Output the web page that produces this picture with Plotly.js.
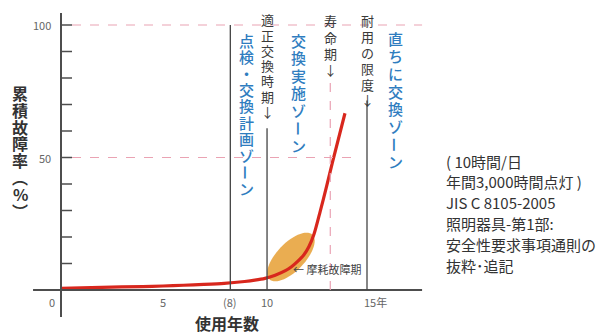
<!DOCTYPE html>
<html><head><meta charset="utf-8">
<script src="https://cdn.plot.ly/plotly-3.0.1.min.js"></script>
<style>html,body{margin:0;padding:0;background:#fff}#c{width:605px;height:335px}</style>
</head><body><div id="c"></div>
<script>
// ---- data ----
const years = [0, 2, 4, 5, 6, 7, 8, 9, 9.5, 10, 10.5, 11, 11.3, 11.6, 11.9, 12.15, 12.4, 12.7, 13.0, 13.3, 13.92];
const failureRate = [0.6, 1.0, 1.3, 1.5, 1.8, 2.1, 2.5, 3.2, 3.7, 4.4, 5.6, 7.3, 8.8, 10.8, 13.2, 16.3, 21, 29.5, 38.5, 48, 66.7];
const xTickPos = [0, 5, 8.3, 10.1, 15];
const xTickText = ['0', '5', '(8)', '10', '15年'];
const yMinorTicks = [10, 20, 30, 40, 50, 60, 70, 80, 90, 100];
const yLabelVals = [50, 100];
const refLevels = [100, 50];           // pink dashed horizontal levels
const refLevelEnds = [17.7, 14.55];    // where they stop on x
const milestoneX = [8.3, 10.1, 15];    // solid vertical lines
const milestoneTop = [100, 61, 71.5];
const lifeX = 13.2, lifeTop = 80;      // pink dashed vertical (寿命期)
const wearCenter = [11.27, 12.45];     // 摩耗故障期 ellipse centre
const noteLines = ['( 10時間/日', '年間3,000時間点灯 )', 'JIS C 8105-2005', '照明器具-第1部:', '安全性要求事項通則の', '抜粋･追記'];

// ---- geometry (pixel mapping) ----
const W = 605, H = 335;
const X0 = 61, PX = 20.4, Y0 = 290, PY = 2.65;
const xr = [-X0 / PX, (W - X0) / PX];
const yr = [(Y0 - H) / PY, Y0 / PY];
const FONT = '"Noto Sans CJK JP", "Noto Sans", sans-serif';
const px2p = p => p / W, py2p = p => 1 - p / H;

const shapes = [];
const axisCol = '#4d4d4d';
shapes.push({type:'line', xref:'x', yref:'y', x0:-1.37, x1:17.7, y0:0, y1:0, line:{color:axisCol, width:2}});
shapes.push({type:'line', xref:'x', yref:'y', x0:0, x1:0, y0:-10.2, y1:104.5, line:{color:axisCol, width:2}});
yMinorTicks.forEach(v => shapes.push({type:'line', xref:'x', yref:'y', x0:0, x1:11/PX, y0:v, y1:v, line:{color:axisCol, width:1.5}}));
refLevels.forEach((v,i) => shapes.push({type:'line', xref:'x', yref:'y', x0:11/PX, x1:refLevelEnds[i], y0:v, y1:v, line:{color:'#eaa3b3', width:1.2, dash:'dash'}}));
shapes.push({type:'line', xref:'x', yref:'y', x0:lifeX, x1:lifeX, y0:0, y1:lifeTop, line:{color:'#eaa3b3', width:1.2, dash:'dash'}});
milestoneX.forEach((v,i) => shapes.push({type:'line', xref:'x', yref:'y', x0:v, x1:v, y0:0, y1:milestoneTop[i], line:{color:'#444', width:1.3}}));
(function(){
  const a = 31, b = 14, th = 46 * Math.PI / 180;
  let d = '';
  for (let k = 0; k <= 60; k++) {
    const t = 2 * Math.PI * k / 60;
    const ox = a * Math.cos(th) * Math.cos(t) - b * Math.sin(th) * Math.sin(t);
    const oy = a * Math.sin(th) * Math.cos(t) + b * Math.cos(th) * Math.sin(t);
    const x = wearCenter[0] + ox / PX, y = wearCenter[1] + oy / PY;
    d += (k ? ' L ' : 'M ') + x.toFixed(4) + ',' + y.toFixed(4);
  }
  shapes.push({type:'path', xref:'x', yref:'y', path:d + ' Z', fillcolor:'rgba(232,164,62,0.9)', line:{width:0}, layer:'below'});
})();

const ann = [];
// vertical (tategaki) text, one character per annotation; the long-vowel mark is turned upright
function vtext(str, x, y, step, size, color, weight) {
  Array.from(str).forEach((ch, i) => ann.push({
    text: ch, xref:'paper', yref:'paper', x: px2p(x), y: py2p(y + i * step),
    xanchor:'center', yanchor:'middle', showarrow:false,
    textangle: ch === 'ー' ? 90 : 0,
    font:{family:FONT, size:size, color:color, weight:weight || 400}
  }));
}
const grey = '#3a3a3a', blue = '#2f7dbf';
vtext('適正交換時期↓', 267, 20, 15.2, 13, grey);
vtext('寿命期↓', 330, 21, 16.3, 13, grey);
vtext('耐用の限度↓', 367, 21, 15.8, 13, grey);
vtext('点検・交換計画ゾーン', 246, 40, 16.5, 15, blue, 500);
vtext('交換実施ゾーン', 298, 40, 17.6, 15, blue, 500);
vtext('直ちに交換ゾーン', 395, 38, 17.7, 15, blue, 500);
vtext('累積故障率︵%︶', 20, 93, 16.8, 16, '#333', 700);

ann.push({text:'使用年数', xref:'paper', yref:'paper', x:px2p(227), y:py2p(323), xanchor:'center', yanchor:'middle', showarrow:false, font:{family:FONT, size:16, color:'#333', weight:700}});
yLabelVals.forEach(v => ann.push({text:String(v), xref:'paper', yref:'y', x:px2p(53), y:v, xanchor:'right', yanchor:'middle', showarrow:false, font:{family:FONT, size:11, color:'#666'}}));
xTickPos.forEach((v,i) => {
  const o = {text:xTickText[i], xref:'x', yref:'paper', x:v, y:py2p(302), xanchor:'center', yanchor:'middle', showarrow:false, font:{family:FONT, size:11, color:'#666'}};
  if (i === 0) { o.xshift = -9; }
  if (xTickText[i] === '15年') { o.xanchor = 'left'; o.xshift = -5; }
  ann.push(o);
});
ann.push({text:'← 摩耗故障期', xref:'paper', yref:'paper', x:px2p(291), y:py2p(269), xanchor:'left', yanchor:'middle', showarrow:false, font:{family:FONT, size:11, color:'#444'}});
noteLines.forEach((t,i) => ann.push({text:t, xref:'paper', yref:'paper', x:px2p(444), y:py2p(161 + i * 20.8), xanchor:'left', yanchor:'middle', showarrow:false, font:{family:FONT, size:15, color:'#333'}}));

const traces = [{x: years, y: failureRate, mode:'lines', line:{color:'#d8271d', width:3.2, shape:'spline', smoothing:0.7}, hoverinfo:'skip'}];
const layout = {
  width: W, height: H, margin:{l:0, r:0, t:0, b:0},
  paper_bgcolor:'#fff', plot_bgcolor:'rgba(0,0,0,0)', showlegend:false,
  xaxis:{range:xr, visible:false, fixedrange:true},
  yaxis:{range:yr, visible:false, fixedrange:true},
  shapes: shapes, annotations: ann, font:{family:FONT}
};
Plotly.newPlot('c', traces, layout, {displayModeBar:false, staticPlot:true});
</script></body></html>
